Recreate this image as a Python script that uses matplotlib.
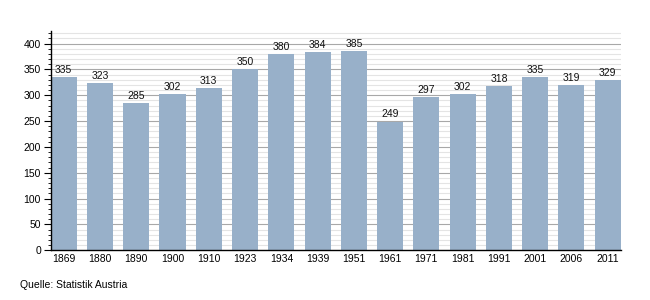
import matplotlib.pyplot as plt
import numpy as np

plt.rcParams['font.family'] = ['Liberation Sans', 'DejaVu Sans']

years = ['1869', '1880', '1890', '1900', '1910', '1923', '1934', '1939',
         '1951', '1961', '1971', '1981', '1991', '2001', '2006', '2011']
population = [335, 323, 285, 302, 313, 350, 380, 384, 385, 249, 297, 302,
              318, 335, 319, 329]

x = np.arange(len(years))
w = 0.72
fs = 7.5

fig = plt.figure(figsize=(6.5, 3), dpi=100)
ax = fig.add_axes([0.078, 0.166, 0.877, 0.732])

ax.set_yticks(np.arange(0, 401, 50))
ax.set_yticks(np.arange(0, 421, 10), minor=True)
ax.grid(True, which='minor', axis='y', color='#e4e4e4', linewidth=0.8)
ax.grid(True, which='major', axis='y', color='#a8a8a8', linewidth=0.8)
ax.set_axisbelow(True)

ax.bar(x, population, width=w, color='#98b0c9', zorder=2)
for xi, v in zip(x, population):
    ax.text(xi, v + 4, str(v), ha='center', va='bottom', fontsize=fs, color='#111111')

ax.set_xlim(-w / 2, len(years) - 1 + w / 2)
ax.set_ylim(0, 425)
ax.set_xticks(x)
ax.set_xticklabels(years)

for s in ['top', 'right']:
    ax.spines[s].set_visible(False)
ax.spines['left'].set_linewidth(1.0)
ax.spines['bottom'].set_linewidth(1.0)
ax.tick_params(axis='x', length=0, labelsize=fs, pad=3)
ax.tick_params(axis='y', which='major', length=5, labelsize=fs, pad=2)
ax.tick_params(axis='y', which='minor', length=2.5)

fig.text(0.031, 0.033, 'Quelle: Statistik Austria', fontsize=fs, ha='left', va='bottom')

fig.savefig('out.png', dpi=100)
